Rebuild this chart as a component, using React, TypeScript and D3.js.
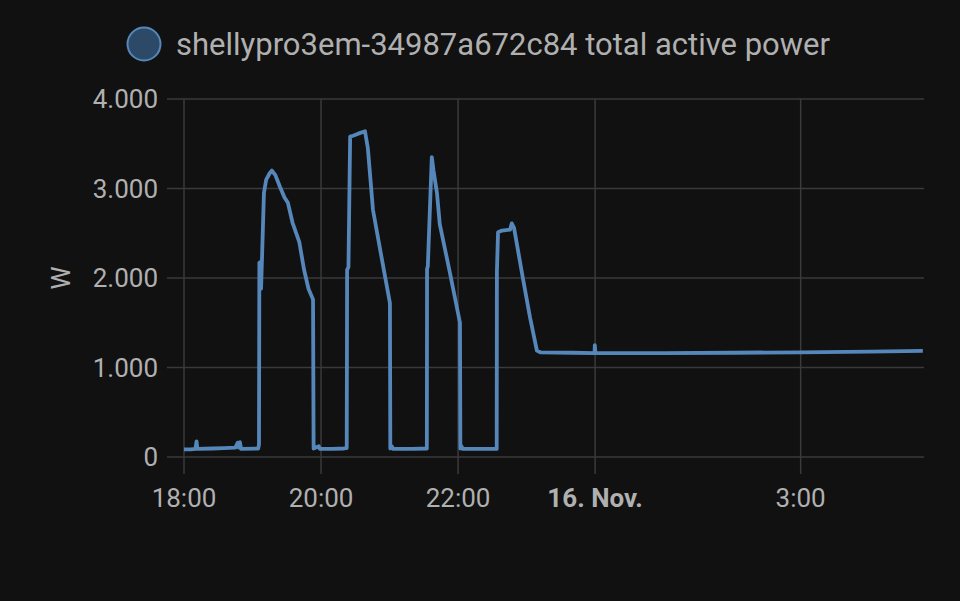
import React, { useRef, useEffect } from 'react';
import * as d3 from 'd3';

// Shelly Pro 3EM total active power, 15./16. Nov
const seriesName = 'shellypro3em-34987a672c84 total active power';
const unit = 'W';

const times = [
  '18:00:00', '18:06:00', '18:10:00', '18:11:00', '18:11:40', '18:25:00', '18:35:00', '18:45:00',
  '18:47:00', '18:48:00', '18:49:00', '18:50:00', '19:05:00', '19:05:40', '19:06:00', '19:07:00',
  '19:07:30', '19:08:30', '19:10:00', '19:12:00', '19:15:00', '19:17:00', '19:20:00', '19:24:00',
  '19:28:00', '19:31:00', '19:35:00', '19:41:00', '19:45:00', '19:49:00', '19:53:00', '19:53:30',
  '19:58:00', '19:59:00', '20:10:00', '20:20:00', '20:22:30', '20:22:50', '20:24:00', '20:25:30',
  '20:28:00', '20:32:00', '20:38:30', '20:41:00', '20:45:30', '20:52:00', '21:00:20', '21:00:40',
  '21:02:00', '21:03:00', '21:20:00', '21:32:40', '21:32:50', '21:33:30', '21:37:00', '21:38:30',
  '21:41:30', '21:44:00', '21:53:00', '22:01:40', '22:02:00', '22:03:00', '22:04:00', '22:20:00',
  '22:33:50', '22:34:00', '22:35:00', '22:38:30', '22:45:30', '22:47:00', '22:49:00', '22:57:00',
  '23:03:00', '23:09:00', '23:12:00', '23:40:00', '23:59:30', '23:59:45', '00:00:15', '01:00:00',
  '02:00:00', '03:00:00', '04:00:00', '04:47:00',
];

const values = [
  85, 85, 90, 175, 90, 95, 100, 105,
  160, 105, 165, 90, 95, 140, 2170, 2180,
  1880, 2300, 2950, 3100, 3170, 3200, 3150, 3020,
  2900, 2840, 2620, 2400, 2100, 1880, 1760, 95,
  120, 90, 90, 95, 100, 2090, 2120, 3580,
  3590, 3610, 3640, 3450, 2760, 2300, 1720, 95,
  120, 90, 90, 95, 2100, 2130, 3350, 3200,
  2950, 2600, 2050, 1500, 95, 120, 90, 90,
  90, 2070, 2510, 2530, 2540, 2610, 2560, 1980,
  1560, 1190, 1170, 1165, 1160, 1250, 1160, 1160,
  1165, 1170, 1178, 1185,
];

const yTicks = [0, 1000, 2000, 3000, 4000];
const xTicks = ['18:00', '20:00', '22:00', '00:00', '03:00'];
const xTickLabels = ['18:00', '20:00', '22:00', '16. Nov.', '3:00'];
const domainStart = '18:00';
const domainEnd = '04:48';

// times after midnight belong to 16. Nov
const parseTime = (s: string) => {
  const [h, m, sec] = s.split(':').map(Number);
  const day = h < 12 ? 16 : 15;
  return new Date(2023, 10, day, h, m, sec || 0);
};

const fmt = (v: number) => d3.format(',')(v).replace(/,/g, '.');

const W = 960;
const H = 601;
const margin = { left: 184, right: 36, top: 99, bottom: 144 };

const App: React.FC = () => {
  const svgRef = useRef<SVGSVGElement>(null);

  useEffect(() => {
    if (!svgRef.current) return;
    const svg = d3.select(svgRef.current);
    svg.selectAll('*').remove();

    const textColor = '#b0b0b0';
    const gridColor = '#3a3a3a';
    const lineColor = '#5587bb';

    svg.append('rect').attr('width', W).attr('height', H).attr('fill', '#111111');

    const x = d3.scaleTime()
      .domain([parseTime(domainStart), parseTime(domainEnd)])
      .range([margin.left, W - margin.right]);

    const y = d3.scaleLinear()
      .domain([0, 4000])
      .range([H - margin.bottom, margin.top]);

    // horizontal grid
    const gy = svg.append('g').attr('font-family', 'Roboto, sans-serif');
    yTicks.forEach((t) => {
      gy.append('line')
        .attr('x1', margin.left - 17).attr('x2', W - margin.right)
        .attr('y1', y(t)).attr('y2', y(t))
        .attr('stroke', gridColor).attr('stroke-width', 1.5);
      gy.append('text')
        .attr('x', margin.left - 26).attr('y', y(t))
        .attr('dy', '0.36em')
        .attr('text-anchor', 'end')
        .attr('font-size', 26)
        .attr('fill', textColor)
        .text(fmt(t));
    });

    // vertical grid
    const gx = svg.append('g').attr('font-family', 'Roboto, sans-serif');
    xTicks.forEach((t, i) => {
      const px = x(parseTime(t));
      gx.append('line')
        .attr('x1', px).attr('x2', px)
        .attr('y1', margin.top).attr('y2', H - margin.bottom + 17)
        .attr('stroke', gridColor).attr('stroke-width', 1.5);
      gx.append('text')
        .attr('x', px).attr('y', H - margin.bottom + 50)
        .attr('text-anchor', 'middle')
        .attr('font-size', 26)
        .attr('font-weight', xTickLabels[i].includes('Nov') ? 'bold' : 'normal')
        .attr('fill', textColor)
        .text(xTickLabels[i]);
    });

    // axis title
    svg.append('text')
      .attr('transform', `translate(70, ${y(2000)}) rotate(-90)`)
      .attr('text-anchor', 'middle')
      .attr('font-family', 'Roboto, sans-serif')
      .attr('font-size', 26)
      .attr('fill', textColor)
      .text(unit);

    // series
    const data = times.map((t, i) => ({ t: parseTime(t), v: values[i] }));
    const line = d3.line<{ t: Date; v: number }>()
      .x((d) => x(d.t))
      .y((d) => y(d.v));

    svg.append('path')
      .datum(data)
      .attr('d', line)
      .attr('fill', 'none')
      .attr('stroke', lineColor)
      .attr('stroke-width', 3.8)
      .attr('stroke-linejoin', 'round');

    // legend
    const lg = svg.append('g');
    lg.append('circle')
      .attr('cx', 144).attr('cy', 44).attr('r', 16.5)
      .attr('fill', '#2c4a68')
      .attr('stroke', '#5587bb')
      .attr('stroke-width', 2);
    lg.append('text')
      .attr('x', 176).attr('y', 44)
      .attr('dy', '0.36em')
      .attr('font-family', 'Roboto, sans-serif')
      .attr('font-size', 31)
      .attr('fill', textColor)
      .text(seriesName);
  }, []);

  return (
    <div style={{ position: 'absolute', left: 0, top: 0 }}>
      <svg ref={svgRef} width={W} height={H} style={{ display: 'block' }} />
    </div>
  );
};

export default App;
